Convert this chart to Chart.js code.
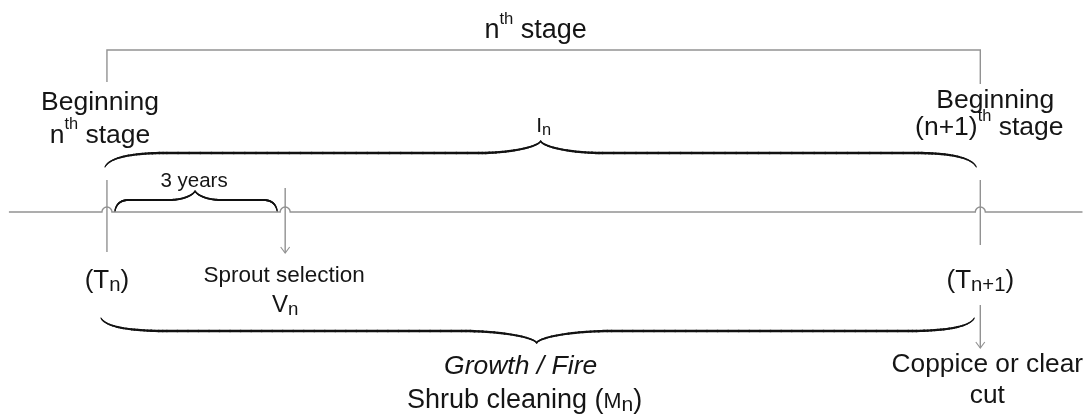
<!DOCTYPE html>
<html><head><meta charset="utf-8">
<script src="https://cdn.jsdelivr.net/npm/chart.js@4.4.1/dist/chart.umd.min.js"></script>
<style>html,body{margin:0;padding:0;background:#fff}#wrap{width:1092px;height:415px;position:relative}</style>
</head><body><div id="wrap"><canvas id="c"></canvas></div>
<script>
// ---- Data (time in years along the stage) ----
const eventKeys   = ['stageStart', 'sproutSelection', 'stageEnd'];
const eventYears  = [0, 3, 14.7];
const eventLabels = ['(T_{n})', 'Sprout selection', '(T_{n+1})'];
const eventSubLabels = ['', 'V_{n}', ''];
const timelineSpan = [-1.65, 16.42];
const stageTitle = 'n^{th} stage';
const beginLabels = [['Beginning', 'n^{th} stage'], ['Beginning', '(n+1)^{th} stage']];
const intervalLabel = 'I_{n}';
const sproutGapLabel = '3 years';
const growthLabels = ['*Growth / Fire', 'Shrub cleaning (~{M}_{n})'];
const endActionLabels = ['Coppice or clear', 'cut'];

const FONT = '"Liberation Sans", Arial, Helvetica, sans-serif';
const TXT = '#151515';
const GRAY = '#929292';

function parseRich(s) {
  const segs = [];
  let italic = false;
  if (s.startsWith('*')) { italic = true; s = s.slice(1); }
  const re = /(\^\{[^}]*\}|_\{[^}]*\}|~\{[^}]*\})/g;
  let last = 0, m;
  while ((m = re.exec(s))) {
    if (m.index > last) segs.push({ t: s.slice(last, m.index), k: 'n' });
    const tag = m[0][0];
    segs.push({ t: m[0].slice(2, -1), k: tag === '^' ? 'sup' : tag === '_' ? 'sub' : 'small' });
    last = re.lastIndex;
  }
  if (last < s.length) segs.push({ t: s.slice(last), k: 'n' });
  segs.forEach(g => g.italic = italic);
  return segs;
}
function segFont(g, size) {
  let sz = size;
  if (g.k === 'sup') sz = size * 0.62;
  else if (g.k === 'sub') sz = size * 0.78;
  else if (g.k === 'small') sz = size * 0.8;
  return (g.italic ? 'italic ' : '') + sz.toFixed(1) + 'px ' + FONT;
}
function drawRich(ctx, s, cx, base, size) {
  const segs = parseRich(s);
  let w = 0;
  segs.forEach(g => { ctx.font = segFont(g, size); g.w = ctx.measureText(g.t).width; w += g.w; });
  let x = cx - w / 2;
  ctx.fillStyle = TXT;
  ctx.textBaseline = 'alphabetic';
  ctx.textAlign = 'left';
  segs.forEach(g => {
    ctx.font = segFont(g, size);
    let dy = 0;
    if (g.k === 'sup') dy = -size * 0.52;
    else if (g.k === 'sub') dy = size * 0.12;
    ctx.fillText(g.t, x, base + dy);
    x += g.w;
  });
}

// tapered stroke along cubic pieces
function cubicPt(p, t) {
  const u = 1 - t;
  return [
    u*u*u*p[0][0] + 3*u*u*t*p[1][0] + 3*u*t*t*p[2][0] + t*t*t*p[3][0],
    u*u*u*p[0][1] + 3*u*u*t*p[1][1] + 3*u*t*t*p[2][1] + t*t*t*p[3][1]
  ];
}
function drawPieces(ctx, pieces) {
  ctx.lineCap = 'round';
  pieces.forEach(pc => {
    const n = 28;
    let prev = cubicPt(pc.p, 0);
    for (let i = 1; i <= n; i++) {
      const t = i / n;
      const pt = cubicPt(pc.p, t);
      const tm = (i - 0.5) / n;
      ctx.lineWidth = pc.w0 + (pc.w1 - pc.w0) * (pc.ease ? Math.pow(tm, pc.ease) : tm);
      ctx.beginPath();
      ctx.moveTo(prev[0], prev[1]);
      ctx.lineTo(pt[0], pt[1]);
      ctx.stroke();
      prev = pt;
    }
  });
}
function line3(a, b) { return [a, [a[0] + (b[0]-a[0])/3, a[1] + (b[1]-a[1])/3], [a[0] + 2*(b[0]-a[0])/3, a[1] + 2*(b[1]-a[1])/3], b]; }
function quad3(a, c, b) { return [a, [a[0] + 2/3*(c[0]-a[0]), a[1] + 2/3*(c[1]-a[1])], [b[0] + 2/3*(c[0]-b[0]), b[1] + 2/3*(c[1]-b[1])], b]; }

function brace(ctx, x0, x1, yEnd, yLine, xTip, yTip, endW, midW, wMax, wEnd, wTip, endCp) {
  const dy = yTip - yLine;
  const A = [x0, yEnd], B = [x0 + endW, yLine];
  const C = [xTip - midW, yLine], T = [xTip, yTip];
  const D = [xTip + midW, yLine], E = [x1 - endW, yLine], F = [x1, yEnd];
  const pieces = [
    { p: quad3(A, [x0 + endCp, yLine], B), w0: wEnd, w1: wMax, ease: 0.7 },
    { p: line3(B, C), w0: wMax, w1: wMax },
    { p: [C, [xTip - midW * 0.45, yLine], [xTip - 2, yLine + dy * 0.55], T], w0: wMax, w1: wTip, ease: 1.6 },
    { p: [T, [xTip + 2, yLine + dy * 0.55], [xTip + midW * 0.45, yLine], D], w0: wTip, w1: wMax, ease: 0.6 },
    { p: line3(D, E), w0: wMax, w1: wMax },
    { p: quad3(E, [x1 - endCp, yLine], F), w0: wMax, w1: wEnd, ease: 1.4 }
  ];
  drawPieces(ctx, pieces);
}

const diagram = {
  id: 'diagram',
  afterDatasetsDraw(chart) {
    const ctx = chart.ctx;
    const xs = chart.scales.x, ys = chart.scales.y;
    const X = v => xs.getPixelForValue(v);
    const Y = v => ys.getPixelForValue(v);
    const ex = eventYears.map(X);
    const [tS, tV, tE] = ex;
    const mid = (tS + tE) / 2 - 5;
    const yT = Y(212);
    ctx.save();
    ctx.lineCap = 'butt';
    ctx.lineJoin = 'miter';

    // gray structure
    ctx.strokeStyle = GRAY;
    ctx.lineWidth = 1.4;
    ctx.beginPath();
    ctx.moveTo(tS, Y(82)); ctx.lineTo(tS, Y(50)); ctx.lineTo(tE, Y(50)); ctx.lineTo(tE, Y(84));
    ctx.stroke();
    // timeline with hops
    ctx.beginPath();
    ctx.moveTo(X(timelineSpan[0]), yT);
    ex.forEach(x => { ctx.lineTo(x - 5, yT); ctx.arc(x, yT, 5, Math.PI, 0, false); });
    ctx.lineTo(X(timelineSpan[1]), yT);
    ctx.stroke();
    // verticals
    ctx.beginPath();
    ctx.moveTo(tS, Y(180)); ctx.lineTo(tS, Y(252));
    ctx.moveTo(tV, Y(188)); ctx.lineTo(tV, Y(253));
    ctx.moveTo(tE, Y(180)); ctx.lineTo(tE, Y(245));
    ctx.moveTo(tE, Y(305)); ctx.lineTo(tE, Y(348));
    ctx.stroke();
    ctx.lineWidth = 1.1;
    [[tV, Y(253)], [tE, Y(348)]].forEach(([x, y]) => {
      ctx.beginPath();
      ctx.moveTo(x - 4.5, y - 6); ctx.lineTo(x, y); ctx.lineTo(x + 4.5, y - 6);
      ctx.stroke();
    });

    // braces
    ctx.strokeStyle = '#121212';
    brace(ctx, tS - 2, tE - 4, Y(167), Y(153), mid + 2, Y(141), 62, 62, 2.5, 1.0, 1.3, 7);
    brace(ctx, tS - 6, tE - 6, Y(318), Y(331), mid - 2, Y(343), 66, 75, 2.5, 1.0, 1.3, 7);
    brace(ctx, tS + 8, tV - 8, Y(211), Y(200), (tS + tV) / 2 - 1, Y(191), 14, 26, 2.0, 1.2, 1.2, 2);

    // texts
    drawRich(ctx, stageTitle, mid - 3, Y(38), 27);
    drawRich(ctx, beginLabels[0][0], tS - 7, Y(110), 26.5);
    drawRich(ctx, beginLabels[0][1], tS - 7, Y(143), 26.5);
    drawRich(ctx, beginLabels[1][0], tE + 15, Y(108), 26.5);
    drawRich(ctx, beginLabels[1][1], tE + 9, Y(135), 26.5);
    drawRich(ctx, intervalLabel, mid + 5, Y(132), 21);
    drawRich(ctx, sproutGapLabel, (tS + tV) / 2 - 2, Y(187), 20.5);
    drawRich(ctx, eventLabels[0], tS, Y(288), 26);
    drawRich(ctx, eventLabels[1], tV - 1, Y(282), 22.5);
    drawRich(ctx, eventSubLabels[1], tV, Y(312), 24);
    drawRich(ctx, eventLabels[2], tE, Y(288), 26);
    drawRich(ctx, growthLabels[0], mid - 18, Y(374), 26.5);
    drawRich(ctx, growthLabels[1], mid - 14, Y(408), 27);
    drawRich(ctx, endActionLabels[0], tE + 7, Y(372), 26.3);
    drawRich(ctx, endActionLabels[1], tE + 7, Y(403), 26.3);
    ctx.restore();
  }
};

new Chart(document.getElementById('c'), {
  type: 'scatter',
  data: {
    datasets: [{
      label: 'events',
      data: eventYears.map(v => ({ x: v, y: 212 })),
      pointRadius: 0,
      showLine: false
    }]
  },
  options: {
    responsive: true,
    maintainAspectRatio: false,
    animation: false,
    layout: { padding: 0 },
    plugins: { legend: { display: false }, tooltip: { enabled: false } },
    events: [],
    scales: {
      x: { type: 'linear', display: false, min: -1.8, max: 16.58 },
      y: { type: 'linear', display: false, min: 0, max: 415, reverse: true }
    }
  },
  plugins: [diagram]
});
</script>
</body></html>
